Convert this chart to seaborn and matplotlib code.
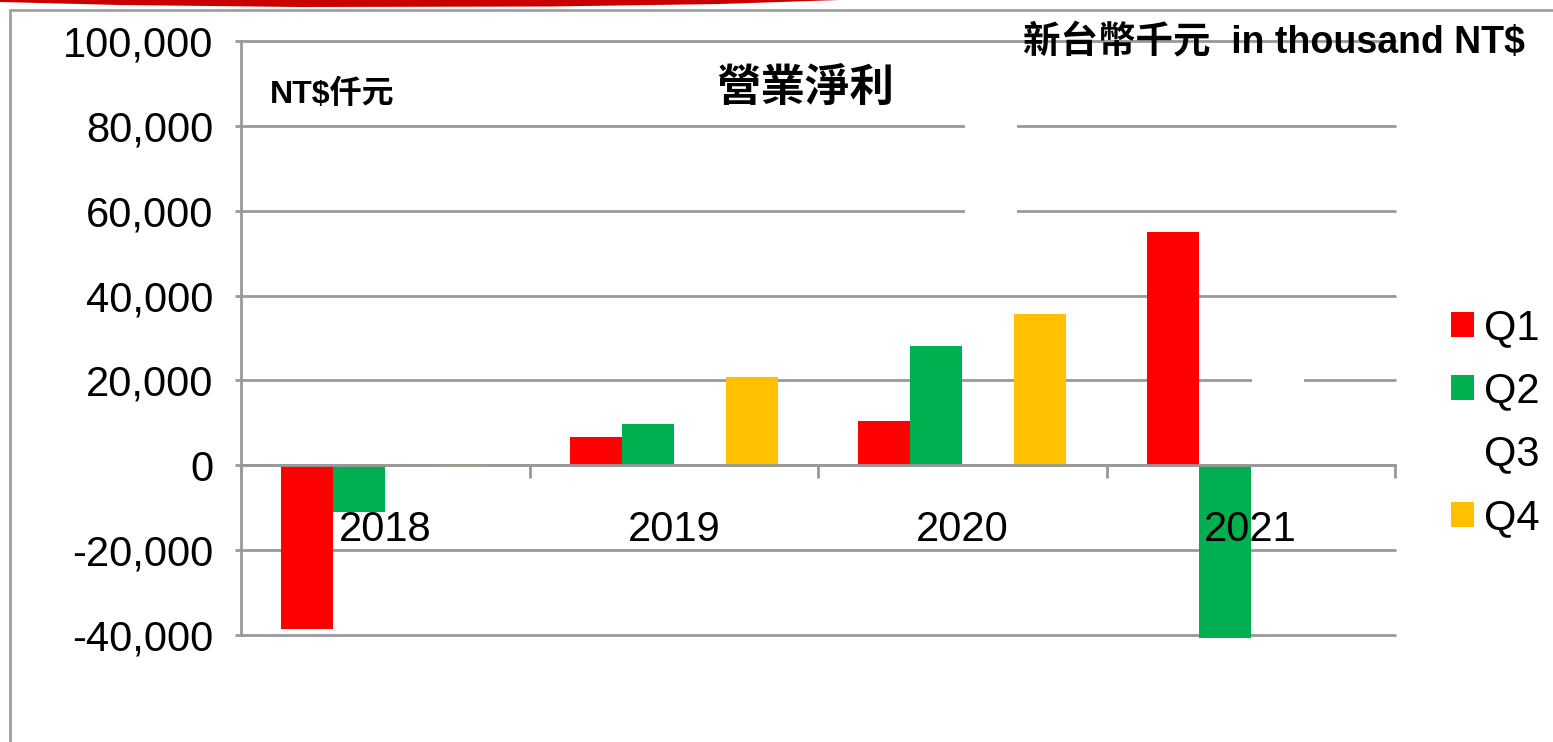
import numpy as np
import pandas as pd
import matplotlib
matplotlib.use("Agg")
import matplotlib.pyplot as plt
import seaborn as sns
from matplotlib.patches import Rectangle, Patch, Polygon
from matplotlib.lines import Line2D
from matplotlib.ticker import FixedLocator, FuncFormatter

# ---- data ----
years = ["2018", "2019", "2020", "2021"]
quarters = ["Q1", "Q2", "Q3", "Q4"]
q1 = [-38700, 6600, 10400, 55000]
q2 = [-10900, 9700, 28100, -40600]
q3 = [np.nan, np.nan, np.nan, np.nan]
q4 = [-400, 20800, 35600, np.nan]
colors = ["#FF0000", "#00B050", "#FFFFFF", "#FFC000"]
yticks = [-40000, -20000, 0, 20000, 40000, 60000, 80000, 100000]

rows = []
for qname, vals in zip(quarters, [q1, q2, q3, q4]):
    for y, v in zip(years, vals):
        rows.append({"year": y, "quarter": qname, "value": v})
df = pd.DataFrame(rows)

sns.set_theme(style="white")
plt.rcParams["font.family"] = ["Liberation Sans", "Noto Sans CJK TC", "DejaVu Sans"]

W, H = 1553, 742
fig = plt.figure(figsize=(W / 100, H / 100), dpi=100)
fig.patch.set_facecolor("white")
ax = fig.add_axes([241 / W, 1 - 635 / H, (1395 - 241) / W, (635 - 41) / H])

sns.barplot(data=df, x="year", y="value", hue="quarter", hue_order=quarters,
            order=years, palette=colors, width=0.72, errorbar=None,
            saturation=1, linewidth=0, legend=False, ax=ax)
for p in ax.patches:
    p.set_clip_on(False)

grid_c = "#999999"
ax.set_ylim(-40000, 100000)
ax.set_xlim(-0.5, 3.5)
ax.set_axisbelow(True)
ax.yaxis.set_major_locator(FixedLocator(yticks))
ax.yaxis.set_major_formatter(FuncFormatter(lambda v, p: f"{int(v):,}"))
ax.yaxis.grid(True, color=grid_c, lw=2)
ax.xaxis.grid(False)
ax.tick_params(axis="y", which="major", direction="out", length=4, width=2,
               color=grid_c, pad=16, labelsize=30, labelcolor="black", left=True)
for gl in ax.get_ygridlines():
    gl.set_clip_on(False)

for s in ["top", "right"]:
    ax.spines[s].set_visible(False)
ax.spines["left"].set_color(grid_c)
ax.spines["left"].set_linewidth(2)
ax.spines["bottom"].set_position(("data", 0))
ax.spines["bottom"].set_color(grid_c)
ax.spines["bottom"].set_linewidth(2)

ax.xaxis.set_major_locator(FixedLocator([-0.5, 0.5, 1.5, 2.5, 3.5]))
ax.set_xticklabels([])
ax.tick_params(axis="x", which="major", direction="out", length=9, width=2,
               color=grid_c, bottom=True)
ax.set_xlabel("")
ax.set_ylabel("")

for i, y in enumerate(years):
    ax.annotate(y, (i, 0), xytext=(0, -32), textcoords="offset points",
                ha="center", va="top", fontsize=30, color="black", zorder=5)

# white gaps in the gridlines (behind text boxes in the original)
ax.add_patch(Rectangle((0.6274, 0.70), 0.0451, 0.175, transform=ax.transAxes,
                       facecolor="white", edgecolor="none", zorder=0.8))
ax.add_patch(Rectangle((0.8761, 0.41), 0.0451, 0.04, transform=ax.transAxes,
                       facecolor="white", edgecolor="none", zorder=0.8))

# legend
handles = [Patch(facecolor=c, edgecolor="none") for c in colors]
fig.legend(handles, quarters, loc="center left",
           bbox_to_anchor=(1451 / W, 1 - 423 / H), frameon=False,
           fontsize=30, handlelength=0.55, handleheight=0.55,
           handletextpad=0.25, labelspacing=0.56, borderpad=0, borderaxespad=0,
           labelcolor="black")

# texts
fig.text(805 / W, 1 - 88 / H, "營業淨利", ha="center", va="center",
         fontsize=32, fontweight="bold",
         family=["Noto Sans CJK TC", "DejaVu Sans"], color="black")
fig.text(270 / W, 1 - 95 / H, "NT$仟元", ha="left", va="center",
         fontsize=23, fontweight="bold", color="black")
fig.text(1525 / W, 1 - 43 / H, "新台幣千元  in thousand NT$", ha="right",
         va="center", fontsize=27, fontweight="bold", color="black")

# slide frame and red swoosh decoration
fig.add_artist(Line2D([10 / W, 10 / W], [0, 1 - 10 / H], transform=fig.transFigure,
                      color="#A0A0A0", lw=2))
fig.add_artist(Line2D([10 / W, 1], [1 - 10 / H, 1 - 10 / H], transform=fig.transFigure,
                      color="#A0A0A0", lw=2))
sw = np.array([(0, 0), (0, 2), (120, 5), (300, 7), (550, 6.5), (720, 4), (840, 0)], float)
sw[:, 0] /= W
sw[:, 1] = 1 - sw[:, 1] / H
fig.add_artist(Polygon(sw, closed=True, transform=fig.transFigure,
                       facecolor="#C80000", edgecolor="none"))

fig.savefig("out.png", dpi=100)
